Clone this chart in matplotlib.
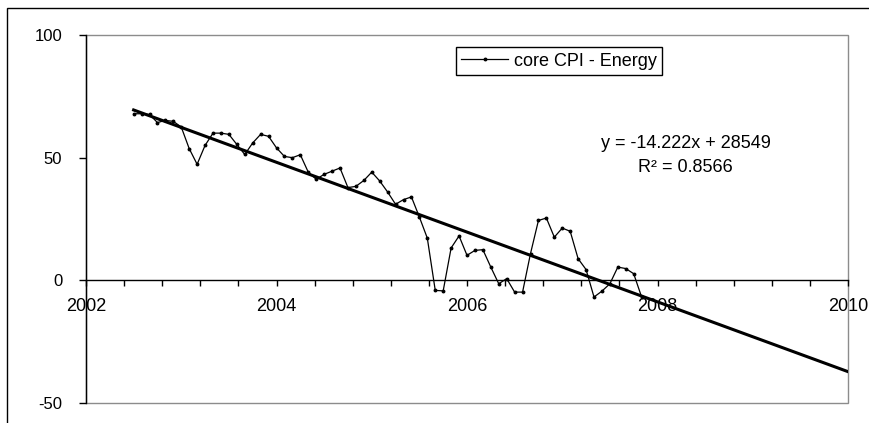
import numpy as np
import pandas as pd
import matplotlib
matplotlib.use("Agg")
import matplotlib.pyplot as plt
from matplotlib.patches import Rectangle
from matplotlib.ticker import MultipleLocator

plt.rcParams["font.family"] = ["Liberation Sans", "DejaVu Sans"]
plt.rcParams["axes.unicode_minus"] = False

# monthly series, starting July 2002
START = "2002-07-01"
cpi = [67.9, 67.9, 67.6, 64.3, 65.2, 64.8, 62.5, 53.7, 47.3, 55.0,
       60.0, 60.0, 59.5, 55.4, 51.3, 56.0, 59.5, 58.7, 54.0, 50.5,
       50.0, 51.2, 44.1, 41.2, 43.2, 44.5, 45.8, 37.8, 38.3, 40.7,
       44.1, 40.5, 36.0, 31.0, 32.9, 34.0, 25.8, 17.2, -4.1, -4.3,
       13.2, 18.1, 10.2, 12.2, 12.5, 5.4, -1.4, 0.7, -4.8, -4.8,
       10.9, 24.4, 25.4, 17.6, 21.3, 20.0, 8.8, 4.4, -6.8, -4.4,
       -1.4, 5.4, 4.8, 2.7, -6.8]
label = "core CPI - Energy"

# linear trend as printed on the chart, forecast to 2010
slope, intercept = -14.222, 28549
trend_end = 2010
eq_text = "y = -14.222x + 28549"
r2_text = "R\u00b2 = 0.8566"

x_ticks = [2002, 2004, 2006, 2008, 2010]
y_ticks = [-50, 0, 50, 100]

dates = pd.date_range(START, periods=len(cpi), freq="MS")
years = np.asarray(dates.year + (dates.month - 1) / 12.0, dtype=float)

W, H = 870, 423
fig = plt.figure(figsize=(W / 100, H / 100), dpi=100)
ax = fig.add_axes([86 / W, 1 - 403 / H, 762 / W, 368 / H])

# outer chart border (right/bottom run off the image)
fig.add_artist(Rectangle((7 / W, -0.1), 1.0, 1 - 8 / H + 0.1,
                         transform=fig.transFigure, fill=False,
                         edgecolor="black", linewidth=1.0))

# plot area frame in gray
ax.add_patch(Rectangle((0, 0), 1, 1, transform=ax.transAxes, fill=False,
                       edgecolor="#8c8c8c", linewidth=1.0, clip_on=False, zorder=0))

line, = ax.plot(years, cpi, color="black", linewidth=0.9, marker="o",
                markersize=1.8, label=label, zorder=3)
tx = np.array([years[0], trend_end])
ax.plot(tx, slope * tx + intercept, color="black", linewidth=2.2, zorder=4)

ax.set_xlim(2002, 2010)
ax.set_ylim(-50, 100)

for s in ["top", "right"]:
    ax.spines[s].set_visible(False)
ax.spines["bottom"].set_position(("data", 0))
ax.spines["bottom"].set_linewidth(1.0)
ax.spines["left"].set_linewidth(1.0)

ax.set_xticks(x_ticks)
ax.set_xticklabels([str(v) for v in x_ticks])
ax.xaxis.set_minor_locator(MultipleLocator(0.4))
ax.tick_params(axis="x", which="both", direction="out", length=4,
               width=1, labelsize=13, pad=9)
ax.set_yticks(y_ticks)
ax.tick_params(axis="y", direction="out", length=5, width=1,
               labelsize=12, pad=12)

ax.legend(handles=[line], loc="upper left", bbox_to_anchor=(0.4856, 0.967),
          borderaxespad=0, frameon=True, fancybox=False, edgecolor="black",
          framealpha=1, fontsize=13, handlelength=2.6, handletextpad=0.3,
          borderpad=0.3, numpoints=1)

ax.text(0.787, 0.704, eq_text, transform=ax.transAxes, ha="center",
        va="center", fontsize=13)
ax.text(0.787, 0.639, r2_text, transform=ax.transAxes, ha="center",
        va="center", fontsize=13)

fig.savefig("out.png", dpi=100)
